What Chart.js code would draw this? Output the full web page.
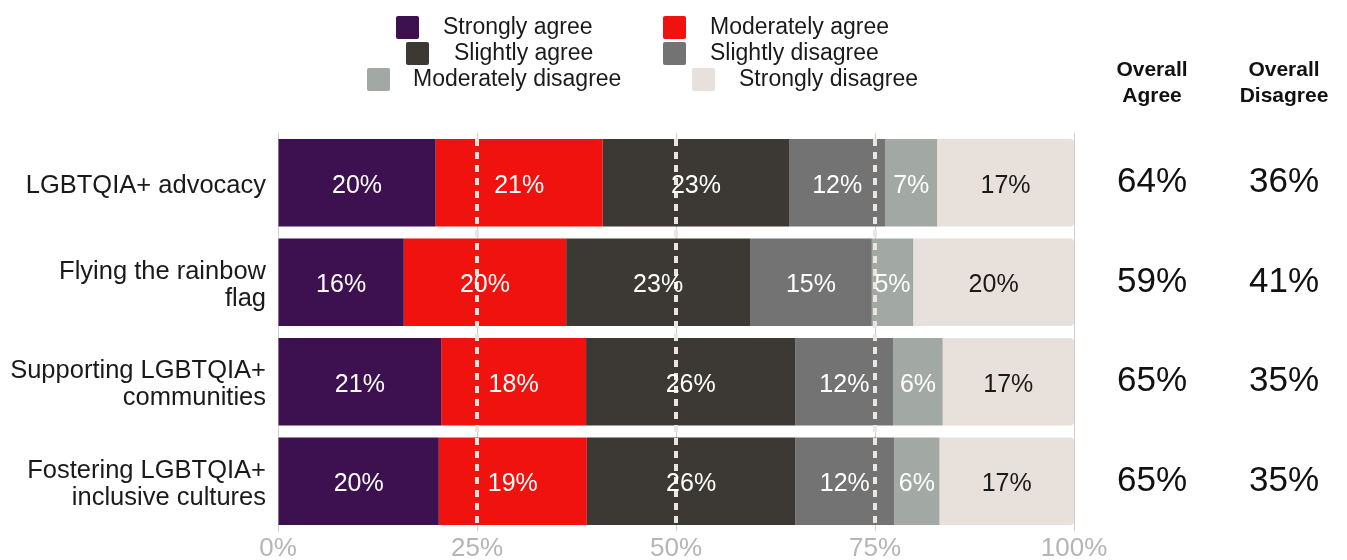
<!DOCTYPE html>
<html>
<head>
<meta charset="utf-8">
<script src="https://cdn.jsdelivr.net/npm/chart.js@4/dist/chart.umd.min.js"></script>
<style>
  html, body { margin: 0; padding: 0; background: #fff; }
  #wrap { width: 1347px; height: 560px; }
</style>
</head>
<body>
<div id="wrap"><canvas id="chart" width="1347" height="560"></canvas></div>
<script>
// --- DATA ---
const categories = [
  ['LGBTQIA+ advocacy'],
  ['Flying the rainbow', 'flag'],
  ['Supporting LGBTQIA+', 'communities'],
  ['Fostering LGBTQIA+', 'inclusive cultures']
];
const seriesNames = ['Strongly agree', 'Moderately agree', 'Slightly agree', 'Slightly disagree', 'Moderately disagree', 'Strongly disagree'];
const seriesColors = ['#3d1150', '#f0120e', '#3c3934', '#737373', '#a2a8a4', '#e8e0da'];

const stronglyAgree      = [19.8, 15.8, 20.5, 20.2];
const moderatelyAgree    = [21.0, 20.4, 18.2, 18.6];
const slightlyAgree      = [23.4, 23.1, 26.3, 26.2];
const slightlyDisagree   = [12.1, 15.3, 12.3, 12.4];
const moderatelyDisagree = [6.5, 5.2, 6.2, 5.7];
const stronglyDisagree   = [17.2, 20.2, 16.5, 16.9];

const overallAgree    = [64, 59, 65, 65];
const overallDisagree = [36, 41, 35, 35];
const overallHeaders  = [['Overall', 'Agree'], ['Overall', 'Disagree']];

const xTickValues = [0, 25, 50, 75, 100];

const FONT = '"Liberation Sans", Arial, sans-serif';

// --- PLUGINS ---
// legend slots: swatch left, text left, row centre
const legendSlots = [
  { sx: 396, tx: 443, y: 27 },
  { sx: 663, tx: 710, y: 27 },
  { sx: 406, tx: 454, y: 53 },
  { sx: 663, tx: 710, y: 53 },
  { sx: 367, tx: 413, y: 79 },
  { sx: 692, tx: 739, y: 79 }
];

const overlayPlugin = {
  id: 'overlay',
  afterDatasetsDraw(chart) {
    const ctx = chart.ctx;
    const area = chart.chartArea;
    const xs = chart.scales.x;

    // dotted reference lines
    ctx.save();
    ctx.strokeStyle = '#ebe4df';
    ctx.lineWidth = 4;
    ctx.setLineDash([7, 6]);
    [25, 50, 75].forEach(v => {
      const x = xs.getPixelForValue(v);
      ctx.beginPath();
      ctx.moveTo(x, area.top + 6);
      ctx.lineTo(x, area.bottom - 4);
      ctx.stroke();
    });
    ctx.restore();

    // value labels
    ctx.save();
    ctx.font = '25px ' + FONT;
    ctx.textAlign = 'center';
    ctx.textBaseline = 'middle';
    chart.data.datasets.forEach((ds, di) => {
      const meta = chart.getDatasetMeta(di);
      ctx.fillStyle = di === 5 ? '#1a1a1a' : '#ffffff';
      meta.data.forEach((bar, i) => {
        const p = bar.getProps(['x', 'y', 'base'], true);
        ctx.fillText(Math.round(ds.data[i]) + '%', (p.x + p.base) / 2, p.y + 3);
      });
    });
    ctx.restore();
  },
  afterDraw(chart) {
    const ctx = chart.ctx;
    const ys = chart.scales.y;
    const cols = [1152, 1284];

    ctx.save();
    ctx.fillStyle = '#111';
    ctx.textAlign = 'center';
    ctx.textBaseline = 'middle';
    ctx.font = 'bold 21px ' + FONT;
    overallHeaders.forEach((lines, c) => {
      lines.forEach((t, k) => ctx.fillText(t, cols[c], 70 + k * 26));
    });
    ctx.font = '35px ' + FONT;
    categories.forEach((_, i) => {
      const y = ys.getPixelForValue(i);
      ctx.fillText(overallAgree[i] + '%', cols[0], y);
      ctx.fillText(overallDisagree[i] + '%', cols[1], y);
    });

    // legend
    ctx.font = '23px ' + FONT;
    ctx.textAlign = 'left';
    seriesNames.forEach((name, i) => {
      const s = legendSlots[i];
      ctx.fillStyle = seriesColors[i];
      ctx.beginPath();
      ctx.roundRect(s.sx, s.y - 11, 23, 23, 2);
      ctx.fill();
      ctx.fillStyle = '#1a1a1a';
      ctx.fillText(name, s.tx, s.y + 1);
    });
    ctx.restore();
  }
};

// --- CHART ---
const seriesData = [stronglyAgree, moderatelyAgree, slightlyAgree, slightlyDisagree, moderatelyDisagree, stronglyDisagree];

const ctx = document.getElementById('chart').getContext('2d');
new Chart(ctx, {
  type: 'bar',
  data: {
    labels: categories,
    datasets: seriesData.map((d, i) => ({
      label: seriesNames[i],
      data: d,
      backgroundColor: seriesColors[i],
      borderWidth: 0,
      borderRadius: i === 5 ? 4 : 0,
      barPercentage: 0.88,
      categoryPercentage: 1
    }))
  },
  options: {
    indexAxis: 'y',
    responsive: false,
    animation: false,
    layout: { padding: { top: 133, right: 273, bottom: 0, left: 0 } },
    plugins: { legend: { display: false }, tooltip: { enabled: false } },
    scales: {
      x: {
        stacked: true,
        min: 0,
        max: 100,
        afterBuildTicks(scale) { scale.ticks = xTickValues.map(v => ({ value: v })); },
        ticks: { callback: v => v + '%', color: '#b5b5b5', font: { size: 26, family: FONT }, padding: 2, maxRotation: 0 },
        grid: { color: '#cfcfcf', drawTicks: false },
        border: { display: false },
        afterFit(scale) { scale.height = 29; }
      },
      y: {
        stacked: true,
        ticks: { color: '#1a1a1a', font: { size: 25.5, family: FONT, lineHeight: 1.05 }, padding: 4, labelOffset: 3 },
        grid: { display: false },
        border: { color: '#cfcfcf' },
        afterFit(scale) { scale.width = 278; }
      }
    }
  },
  plugins: [overlayPlugin]
});
</script>
</body>
</html>
